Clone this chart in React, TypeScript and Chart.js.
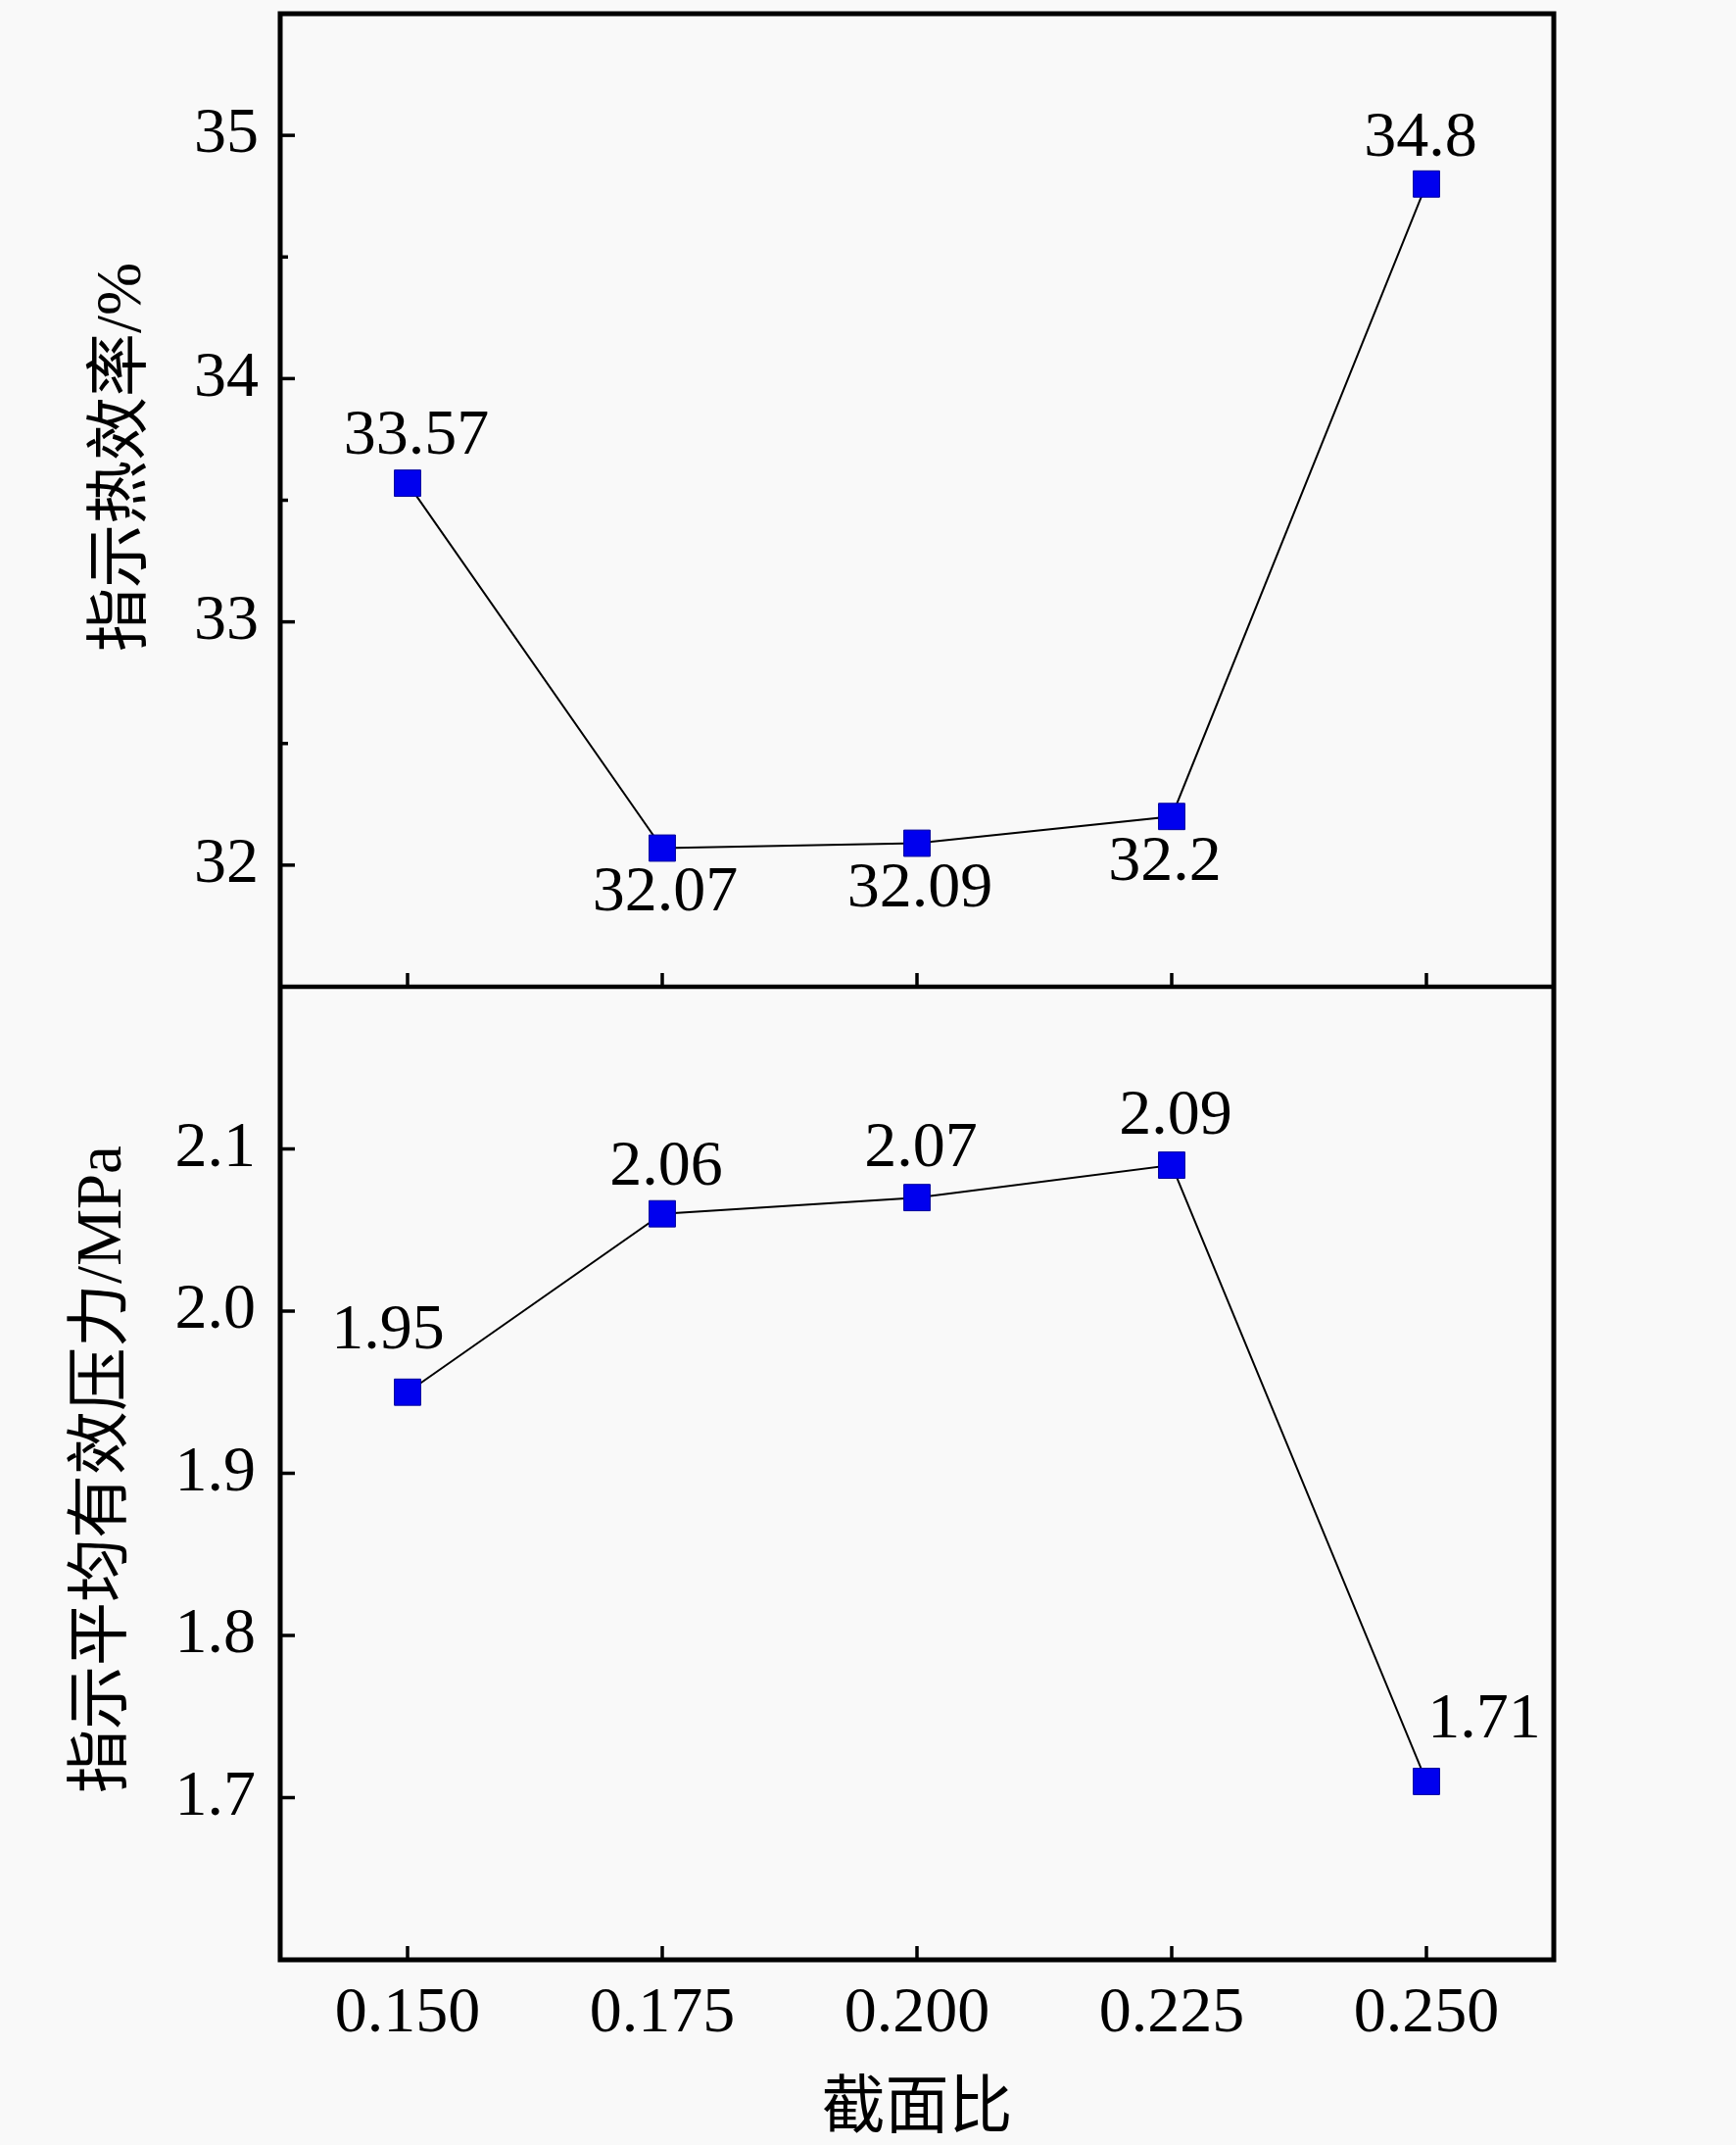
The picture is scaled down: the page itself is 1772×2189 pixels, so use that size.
import { useEffect, useRef } from "react"
import { Chart, registerables } from "chart.js"

Chart.register(...registerables)

// 截面比 (x) and the two measured series
const ratios = [0.15, 0.175, 0.2, 0.225, 0.25]
const efficiency = [33.57, 32.07, 32.09, 32.2, 34.8]
const pressure = [1.95, 2.06, 2.07, 2.09, 1.71]

const xTicks = [0.15, 0.175, 0.2, 0.225, 0.25]
const effTicks = [32, 33, 34, 35]
const effMinorTicks = [32.5, 33.5, 34.5]
const pressTicks = [1.7, 1.8, 1.9, 2.0, 2.1]

// label offset from the marker centre, px
const effLabelPos = [[9, -47], [3, 46], [3, 47], [-7, 47], [-6, -46]]
const pressLabelPos = [[-20, -62], [4, -47], [4, -49], [4, -49], [59, -62]]

const W = 1772
const H = 2189
const SERIF = '"Liberation Serif", "Times New Roman", serif'
const TITLE_FONT = '65px "Liberation Serif", "Noto Sans CJK SC", serif'

const noPad = (s: any) => {
  s.paddingTop = 0
  s.paddingBottom = 0
}

const framePlugin = {
  id: "frame",
  beforeDraw(chart: any) {
    const ctx = chart.ctx
    ctx.save()
    ctx.fillStyle = "#f9f9f9"
    ctx.fillRect(0, 0, chart.width, chart.height)
    ctx.restore()
  },
  afterDatasetsDraw(chart: any) {
    const ctx = chart.ctx
    ctx.save()
    ctx.fillStyle = "#000"
    ctx.font = "66px " + SERIF
    ctx.textAlign = "center"
    ctx.textBaseline = "middle"
    const sets = [
      { vals: efficiency, pos: effLabelPos },
      { vals: pressure, pos: pressLabelPos },
    ]
    sets.forEach((s, di) => {
      const meta = chart.getDatasetMeta(di)
      meta.data.forEach((pt: any, i: number) => {
        ctx.fillText(String(s.vals[i]), pt.x + s.pos[i][0], pt.y + s.pos[i][1])
      })
    })
    ctx.restore()
  },
  afterDraw(chart: any) {
    const ctx = chart.ctx
    const ca = chart.chartArea
    const x = chart.scales.x
    const yEff = chart.scales.yEff
    const yPress = chart.scales.yPress
    const divY = yEff.bottom

    const line = (x1: number, y1: number, x2: number, y2: number) => {
      ctx.beginPath()
      ctx.moveTo(x1, y1)
      ctx.lineTo(x2, y2)
      ctx.stroke()
    }

    ctx.save()
    ctx.strokeStyle = "#000"
    ctx.lineWidth = 3.5
    xTicks.forEach((v) => {
      const px = x.getPixelForValue(v)
      line(px, ca.bottom, px, ca.bottom - 14)
      line(px, divY, px, divY - 14)
    })
    effTicks.forEach((v) => {
      const py = yEff.getPixelForValue(v)
      line(ca.left, py, ca.left + 15, py)
    })
    effMinorTicks.forEach((v) => {
      const py = yEff.getPixelForValue(v)
      line(ca.left, py, ca.left + 8, py)
    })
    pressTicks.forEach((v) => {
      const py = yPress.getPixelForValue(v)
      line(ca.left, py, ca.left + 15, py)
    })

    ctx.lineWidth = 5
    ctx.strokeRect(ca.left, ca.top, ca.right - ca.left, ca.bottom - ca.top)
    ctx.lineWidth = 4.5
    line(ca.left, divY, ca.right, divY)

    // axis titles
    ctx.fillStyle = "#000"
    ctx.font = TITLE_FONT
    ctx.textAlign = "center"
    ctx.textBaseline = "middle"
    ctx.fillText("截面比", (ca.left + ca.right) / 2, ca.bottom + 154)

    const vTitle = (text: string, cx: number, cy: number) => {
      ctx.save()
      ctx.translate(cx, cy)
      ctx.rotate(-Math.PI / 2)
      ctx.fillText(text, 0, 0)
      ctx.restore()
    }
    vTitle("指示热效率/%", ca.left - 160, (yEff.top + yEff.bottom) / 2 - 44)
    vTitle("指示平均有效压力/MPa", ca.left - 180, (yPress.top + yPress.bottom) / 2 - 4)
    ctx.restore()
  },
}

export default function App() {
  const chartRef = useRef<HTMLCanvasElement>(null)
  const chartInstance = useRef<Chart | null>(null)

  useEffect(() => {
    document.body.style.margin = "0"
    document.body.style.background = "#f9f9f9"
    if (!chartRef.current) return
    const ctx = chartRef.current.getContext("2d")
    if (!ctx) return

    if (chartInstance.current) {
      chartInstance.current.destroy()
    }

    const tickFont = { family: SERIF, size: 66 }

    chartInstance.current = new Chart(ctx, {
      type: "line",
      data: {
        datasets: [
          {
            label: "指示热效率",
            data: ratios.map((r, i) => ({ x: r, y: efficiency[i] })),
            yAxisID: "yEff",
          },
          {
            label: "指示平均有效压力",
            data: ratios.map((r, i) => ({ x: r, y: pressure[i] })),
            yAxisID: "yPress",
          },
        ].map((d) => ({
          ...d,
          borderColor: "#000",
          borderWidth: 2,
          pointStyle: "rect",
          pointRadius: 19,
          pointBackgroundColor: "#0000ee",
          pointBorderColor: "#00009a",
          pointBorderWidth: 1,
          tension: 0,
          clip: false as any,
        })),
      },
      options: {
        responsive: false,
        animation: false,
        devicePixelRatio: 1,
        layout: { autoPadding: false, padding: { top: 14, right: 186, left: 0, bottom: 0 } },
        plugins: {
          legend: { display: false },
          tooltip: { enabled: false },
        },
        scales: {
          x: {
            type: "linear",
            min: 0.1375,
            max: 0.2625,
            grid: { display: false },
            border: { display: false },
            afterBuildTicks: (s: any) => {
              s.ticks = xTicks.map((v) => ({ value: v }))
            },
            afterFit: (s: any) => {
              s.height = H - 2000
              s.paddingLeft = 0
              s.paddingRight = 0
            },
            ticks: {
              font: tickFont,
              color: "#000",
              padding: 8,
              maxRotation: 0,
              autoSkip: false,
              callback: (v: any) => Number(v).toFixed(3),
            },
          },
          yPress: {
            type: "linear",
            position: "left",
            stack: "panels",
            stackWeight: 1,
            min: 1.6,
            max: 2.2,
            grid: { display: false },
            border: { display: false },
            afterBuildTicks: (s: any) => {
              s.ticks = pressTicks.map((v) => ({ value: v }))
            },
            afterFit: (s: any) => {
              s.width = 286
              noPad(s)
            },
            ticks: {
              font: tickFont,
              color: "#000",
              padding: 17,
              callback: (v: any) => Number(v).toFixed(1),
            },
          },
          yEff: {
            type: "linear",
            position: "left",
            stack: "panels",
            stackWeight: 1,
            min: 31.5,
            max: 35.5,
            grid: { display: false },
            border: { display: false },
            afterBuildTicks: (s: any) => {
              s.ticks = effTicks.map((v) => ({ value: v }))
            },
            afterFit: (s: any) => {
              s.width = 286
              noPad(s)
            },
            ticks: {
              font: tickFont,
              color: "#000",
              padding: 14,
              callback: (v: any) => String(v),
            },
          },
        },
      },
      plugins: [framePlugin],
    })

    return () => {
      if (chartInstance.current) {
        chartInstance.current.destroy()
        chartInstance.current = null
      }
    }
  }, [])

  return (
    <div style={{ width: W, height: H, background: "#f9f9f9" }}>
      <canvas ref={chartRef} width={W} height={H} style={{ display: "block" }}></canvas>
    </div>
  )
}
